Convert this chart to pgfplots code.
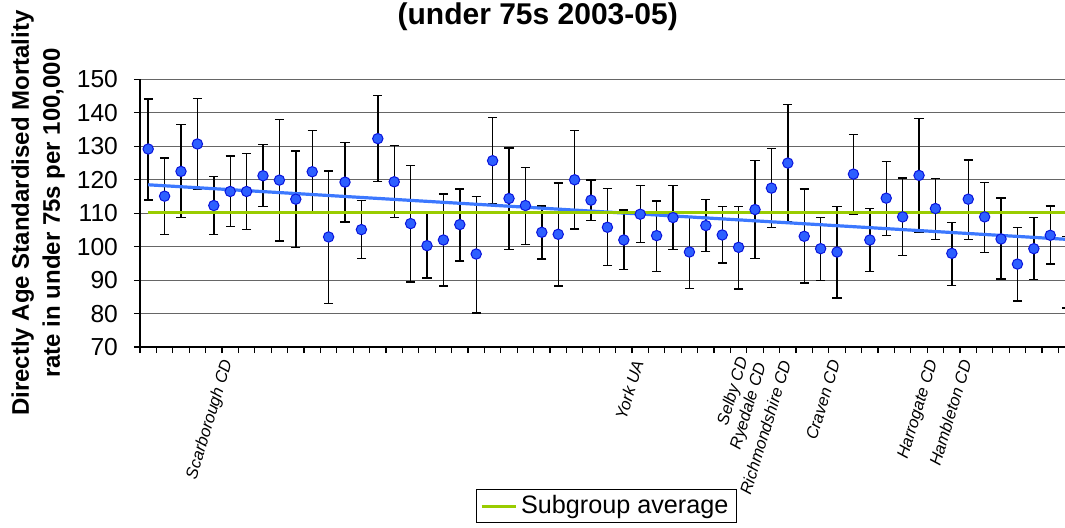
\documentclass[border=0pt]{standalone}
\usepackage{pgfplots}
\pgfplotsset{compat=1.18}
\usepackage{pgfplotstable}
\usepackage{fontspec}
\setmainfont{Liberation Sans}

\definecolor{ptfill}{RGB}{45,95,255}
\definecolor{ptedge}{RGB}{10,20,220}
\definecolor{trendblue}{RGB}{60,120,255}
\definecolor{avggreen}{RGB}{153,204,0}

% i = area index, y = rate, hi/lo = confidence limits
\pgfplotstableread{
i y hi lo
0 129.2 144.2 114.0
1 115.1 126.5 103.6
2 122.5 136.6 108.7
3 130.7 144.3 117.1
4 112.3 120.9 103.6
5 116.5 127.1 106.0
6 116.5 127.8 105.1
7 121.2 130.5 112.0
8 119.9 138.1 101.7
9 114.2 128.6 99.7
10 122.4 134.8 110.5
11 102.9 122.6 83.0
12 119.3 131.2 107.4
13 105.1 113.8 96.4
14 132.3 145.2 119.5
15 119.4 130.2 108.7
16 106.9 124.3 89.4
17 100.3 110.0 90.6
18 102.0 115.8 88.3
19 106.6 117.2 95.7
20 97.8 115.0 80.2
21 125.7 138.7 112.8
22 114.4 129.5 99.2
23 112.3 123.7 100.6
24 104.3 112.1 96.3
25 103.7 119.0 88.3
26 120.0 134.7 105.3
27 113.9 119.9 107.8
28 105.8 117.4 94.3
29 102.0 111.0 93.1
30 109.7 118.3 101.2
31 103.3 113.7 92.6
32 108.7 118.3 99.1
33 98.4 109.0 87.5
34 106.3 114.1 98.6
35 103.5 112.0 95.1
36 99.8 112.0 87.4
37 111.1 125.8 96.4
38 117.5 129.3 105.8
39 125.0 142.5 107.6
40 103.1 117.3 89.1
41 99.4 108.8 89.9
42 98.4 112.0 84.7
43 121.7 133.5 109.8
44 102.0 111.4 92.5
45 114.5 125.4 103.4
46 108.9 120.5 97.3
47 121.3 138.3 104.4
48 111.4 120.3 102.1
49 98.0 107.3 88.4
50 114.2 125.9 102.2
51 108.9 119.2 98.2
52 102.3 114.5 90.3
53 94.8 105.7 83.8
54 99.4 108.8 90.1
55 103.4 112.2 94.8
56 92.3 103.0 81.7
}\rates

\begin{document}
\begin{tikzpicture}
\begin{axis}[
    name=ax,
    width=462.5pt, height=133.8pt, scale only axis,
    xmin=-0.5, xmax=55.9, ymin=70, ymax=150,
    ytick={70,80,...,150}, minor ytick={70,80,...,150},
    xtick={5,30,37,39,42,48,50},
    xticklabels={Scarborough CD,York UA,{Selby CD\\Ryedale CD},Richmondshire CD,Craven CD,Harrogate CD,Hambleton CD},
    minor xtick={-0.5,0.5,...,55.5},
    xticklabel style={yshift=-3.5pt, rotate=73, anchor=east, align=right,
        font=\itshape\fontsize{8.3}{9.6}\selectfont},
    tick align=outside, major tick length=0pt, minor tick length=3pt,
    axis x line*=bottom, axis y line*=left,
    axis line style={-, line width=1pt},
    tick style={black, line width=0.6pt},
    ymajorgrids, major grid style={black!60, line width=0.5pt},
    yticklabel style={font=\fontsize{12.3}{14}\selectfont, xshift=-7.5pt},
    /pgf/number format/assume math mode=true,
    ylabel={Directly Age Standardised Mortality\\rate in under 75s per 100,000},
    ylabel style={font=\bfseries\fontsize{12}{15.5}\selectfont, align=center,
        at={(axis description cs:-0.110,0.5)}, anchor=center},
    title={(under 75s 2003-05)},
    every axis title shift=0pt,
    title style={font=\bfseries\fontsize{15}{18}\selectfont,
        at={(axis description cs:0.430,1.235)}, anchor=center},
    clip marker paths=true,
    legend style={at={(0.504,-0.595)}, anchor=center, draw=black, line width=0.5pt,
        font=\fontsize{12.6}{15}\selectfont, inner xsep=2pt, inner ysep=1pt},
    legend image code/.code={\draw[#1, line width=1.5pt] (0pt,0pt) -- (17pt,0pt);},
]
% confidence intervals
\addplot[only marks, mark=none, forget plot,
    error bars/.cd, y dir=both, y explicit,
    error bar style={black, line width=0.7pt},
    error mark options={rotate=90, black, mark size=2.3pt, line width=0.7pt}]
    table[x=i, y=y, y error plus expr=\thisrow{hi}-\thisrow{y},
          y error minus expr=\thisrow{y}-\thisrow{lo}] {\rates};
% trend
\addplot[trendblue, line width=1.6pt, forget plot] coordinates {(0,118.5) (57,101.9)};
% subgroup average
\addplot[avggreen, line width=1.5pt] coordinates {(0,110.3) (57,110.3)};
\addlegendentry{Subgroup average}
% points
\addplot[only marks, mark=*, mark size=2.6pt, forget plot,
    mark options={fill=ptfill, draw=ptedge, line width=0.5pt}]
    table[x=i, y=y] {\rates};
\end{axis}
\pgfresetboundingbox
\path (ax.south west) ++(-70pt,-90pt) rectangle ++(532.5pt,263.5pt);
\end{tikzpicture}
\end{document}
